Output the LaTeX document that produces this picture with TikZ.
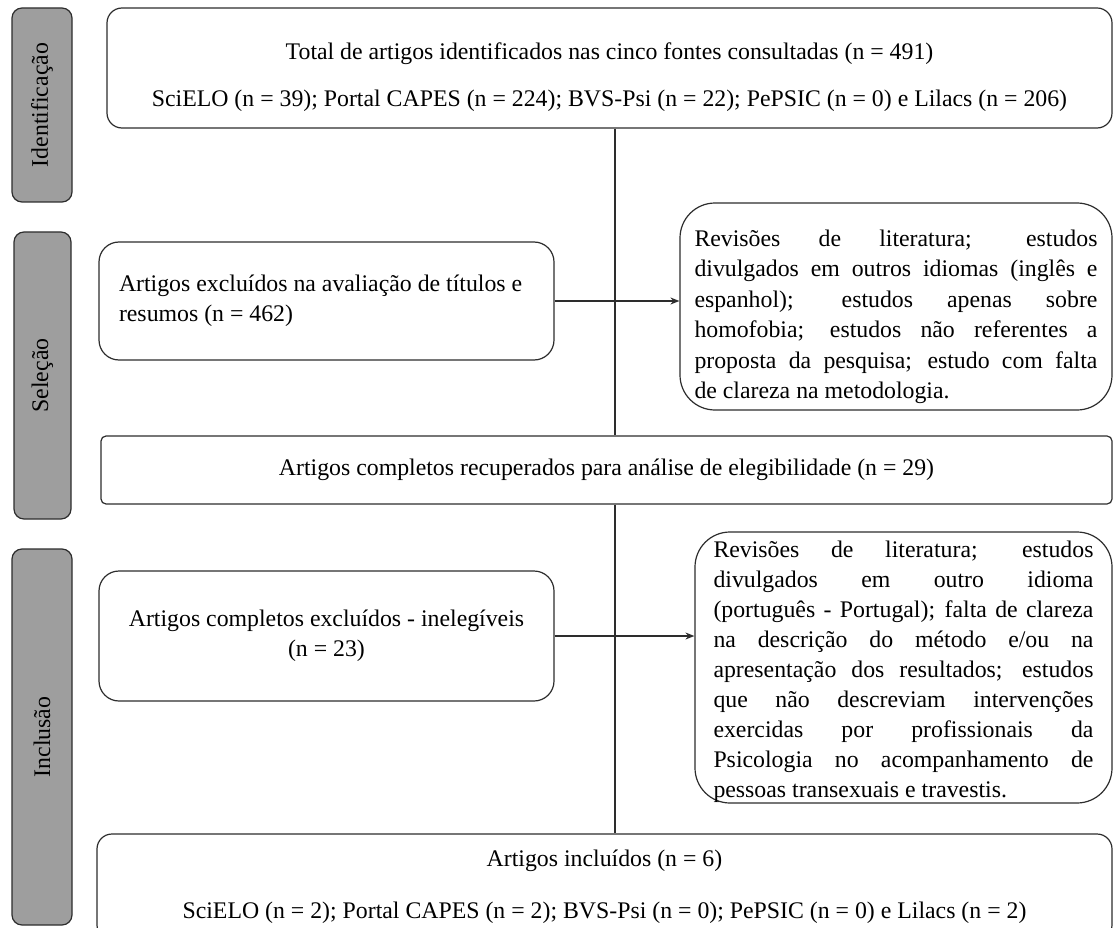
\documentclass[tikz,border=0pt]{standalone}
\usepackage{fontspec}
\setmainfont{Liberation Serif}
\usetikzlibrary{arrows.meta,positioning}
\definecolor{stageGray}{RGB}{158,158,158}
\definecolor{lineDark}{RGB}{45,45,45}
\newcommand{\fullline}[1]{\makebox[\hsize][s]{#1}\\}
\newcommand{\pushdown}[1]{\rule{0pt}{#1}}
\tikzset{
    stage/.style={rectangle, draw=lineDark, fill=stageGray, rounded corners=10pt,
                  line width=1.2pt, rotate=90, inner sep=0pt},
    box/.style={rectangle, draw=lineDark, fill=white, line width=1.2pt, inner sep=0pt,
                execute at begin node={\spaceskip=0pt\xspaceskip=0pt}},
    line/.style={draw=lineDark, line width=1.2pt},
    arrow/.style={line, -{Stealth[length=9pt,width=7pt]}}
}
\begin{document}
\begin{tikzpicture}[x=1pt, y=-1pt, font=\fontsize{23.8}{30.5}\selectfont]
  \useasboundingbox (0,0) rectangle (1119,928);

  % stages on the left
  \node [stage, minimum width=194pt, minimum height=60pt] (ident) at (42,105) {Identificação};
  \node [stage, minimum width=287pt, minimum height=57pt] (selec) at (42.5,375.5) {Seleção};
  \node [stage, minimum width=376pt, minimum height=60pt] (inclu) at (42,737) {Inclusão};

  % boxes
  \node [box, rounded corners=15pt, minimum width=1005pt, minimum height=120pt,
         align=center] (total) at (609.5,68)
        {\pushdown{35pt}Total de artigos identificados nas cinco fontes consultadas (n = 491)\\[16.5pt]
         SciELO (n = 39); Portal CAPES (n = 224); BVS-Psi (n = 22); PePSIC (n = 0) e Lilacs (n = 206)};
  \node [box, rounded corners=20pt, minimum width=455pt, minimum height=118pt,
         text width=415pt, align=justify] (excl) at (326.5,301)
        {\mbox{Artigos excluídos na avaliação de títulos e}\\ resumos (n = 462)};
  \node [box, rounded corners=35pt, minimum width=432pt, minimum height=207pt,
         text width=403pt, align=justify] (whyExcl) at (896,306.5)
        {\fullline{\pushdown{37pt}Revisões de literatura; estudos}
         \fullline{divulgados em outros idiomas (inglês e}
         \fullline{espanhol); estudos apenas sobre}
         \fullline{homofobia; estudos não referentes a}
         \fullline{proposta da pesquisa; estudo com falta}
         de clareza na metodologia.};
  \node [box, rounded corners=5pt, minimum width=1011pt, minimum height=68pt] (recov) at (606.5,470)
        {Artigos completos recuperados para análise de elegibilidade (n = 29)};
  \node [box, rounded corners=20pt, minimum width=455pt, minimum height=130pt,
         align=center] (inel) at (326.5,636)
        {Artigos completos excluídos - inelegíveis\\ (n = 23)};
  \node [box, rounded corners=35pt, minimum width=417pt, minimum height=271pt,
         text width=380pt, align=justify, font=\fontsize{23.8}{30}\selectfont] (whyInel) at (903.5,667.5)
        {\fullline{\pushdown{25pt}Revisões de literatura; estudos}
         \fullline{divulgados em outro idioma}
         \fullline{(português - Portugal); falta de clareza}
         \fullline{na descrição do método e/ou na}
         \fullline{apresentação dos resultados; estudos}
         \fullline{que não descreviam intervenções}
         \fullline{exercidas por profissionais da}
         \fullline{Psicologia no acompanhamento de}
         pessoas transexuais e travestis.};
  \node [box, rounded corners=15pt, minimum width=1015pt, minimum height=106pt,
         align=center] (incl) at (604.5,887)
        {Artigos incluídos (n = 6)\\[21.5pt]
         SciELO (n = 2); Portal CAPES (n = 2); BVS-Psi (n = 0); PePSIC (n = 0) e Lilacs (n = 2)};

  % connectors
  \coordinate (spine) at (615,0);
  \draw [line] (total.south -| spine) -- (recov.north -| spine);
  \draw [line] (recov.south -| spine) -- (incl.north -| spine);
  \draw [arrow] (excl.east) -- (excl.east -| whyExcl.west);
  \draw [arrow] (inel.east) -- (inel.east -| whyInel.west);
\end{tikzpicture}
\end{document}
